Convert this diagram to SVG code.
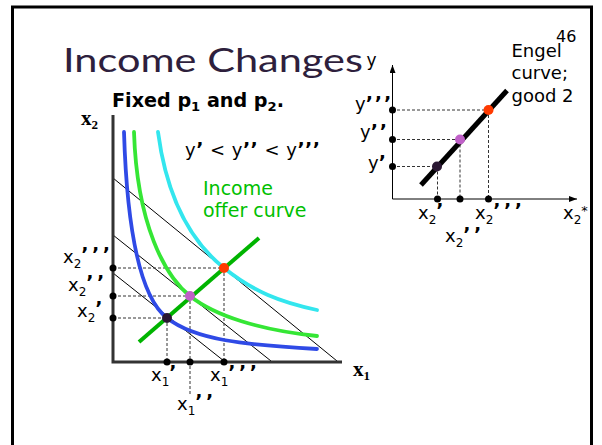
<svg xmlns="http://www.w3.org/2000/svg" width="602" height="445" viewBox="0 0 602 445">
<style>
.lbl{font-family:"DejaVu Sans","Liberation Sans",sans-serif;font-size:18px;fill:#000}
.sub{font-size:12px}
.pr{font-weight:bold;font-size:19px}
.ax{stroke:#333;stroke-width:3;fill:none}
.bl{stroke:#000;stroke-width:1;fill:none}
.dash{stroke:#333;stroke-width:1;stroke-dasharray:3,2;fill:none}
.ic{fill:none;stroke-width:3.8;stroke-linecap:round}
.dot{fill:#000}
.bold{font-family:"Liberation Serif","Times New Roman",serif;font-weight:bold;font-size:21px;fill:#000}
</style>
<defs>
<marker id="arr" viewBox="0 0 8 6" refX="8" refY="3" markerWidth="8" markerHeight="6" markerUnits="userSpaceOnUse" orient="auto">
<path d="M0,0 L8,3 L0,6 Z" fill="#000"/>
</marker>
</defs>
<rect x="0" y="0" width="602" height="445" fill="#fff"/>
<rect id="frame" x="12.5" y="7" width="579" height="470" fill="none" stroke="#000" stroke-width="3"/>

<g id="title">
<text x="63" y="72" font-family="Lato,'Open Sans',sans-serif" font-weight="400" font-size="32" fill="#2e1f3d" textLength="300" lengthAdjust="spacingAndGlyphs">Income Changes</text>
</g>
<g id="pagenum"><text class="lbl" x="556" y="41.5" style="font-size:16px">46</text></g>

<g id="subtitle">
<text class="lbl" x="112" y="106.5" font-weight="bold" style="font-size:19px" textLength="172" lengthAdjust="spacingAndGlyphs">Fixed p<tspan class="sub" dy="4" style="font-size:13px">1</tspan><tspan dy="-4"> and p</tspan><tspan dy="4" style="font-size:13px">2</tspan><tspan dy="-4">.</tspan></text>
</g>

<!-- Left graph -->
<g id="budget-lines">
<line class="bl" x1="113" y1="273" x2="224" y2="361"/>
<line class="bl" x1="113" y1="235" x2="271" y2="361"/>
<line class="bl" x1="113" y1="178" x2="337" y2="361"/>
</g>
<g id="left-dashes">
<line class="dash" x1="113" y1="268" x2="224" y2="268"/>
<line class="dash" x1="113" y1="296" x2="190" y2="296"/>
<line class="dash" x1="113" y1="318" x2="167" y2="318"/>
<line class="dash" x1="167" y1="318" x2="167" y2="362"/>
<line class="dash" x1="190" y1="296" x2="190" y2="394"/>
<line class="dash" x1="224" y1="268" x2="224" y2="362"/>
</g>
<g id="indiff-blue"><path class="ic" stroke="#2f4ae6" d="M124,132 C127,230 140,297 167,318 C195,340 245,345 317,349"/></g>
<g id="indiff-green"><path class="ic" stroke="#35e635" d="M134,132 C137,225 165,276 190,296 C215,316 260,330 317,336"/></g>
<g id="indiff-cyan"><path class="ic" stroke="#33e6ee" d="M158,132 C165,185 184,236 224,268 C254,292 280,302 317,310"/></g>
<g id="offer-curve"><line x1="139" y1="342" x2="259" y2="238" stroke="#00b400" stroke-width="4"/></g>
<g id="left-points">
<circle cx="167" cy="318" r="5" fill="#2b1833"/>
<circle cx="190" cy="296" r="5" fill="#c060c8"/>
<circle cx="224" cy="268" r="5" fill="#ff3a00"/>
</g>
<g id="left-axes">
<polyline class="ax" points="113,115 113,362 342,362"/>
<circle class="dot" cx="113" cy="268" r="3.5"/>
<circle class="dot" cx="113" cy="296" r="3.5"/>
<circle class="dot" cx="113" cy="318" r="3.5"/>
<circle class="dot" cx="167" cy="362" r="3.5"/>
<circle class="dot" cx="190" cy="362" r="3.5"/>
<circle class="dot" cx="224" cy="362" r="3.5"/>
</g>
<g id="left-labels">
<text class="bold" x="81" y="125">x<tspan dy="4" style="font-size:13px">2</tspan></text>
<text class="bold" x="353" y="376">x<tspan dy="4" style="font-size:13px">1</tspan></text>
<text class="lbl" x="185" y="156" textLength="135" lengthAdjust="spacing">y<tspan class="pr">’</tspan> &lt; y<tspan class="pr">’’</tspan> &lt; y<tspan class="pr">’’’</tspan></text>
<text class="lbl" x="203" y="195" style="fill:#00c000;font-size:19px">Income</text>
<text class="lbl" x="203" y="216.5" style="fill:#00c000;font-size:19px">offer curve</text>
<text class="lbl" x="63" y="263">x<tspan class="sub" dy="5">2</tspan><tspan class="pr" dy="-7" letter-spacing="3.5">’’’</tspan></text>
<text class="lbl" x="68" y="291">x<tspan class="sub" dy="5">2</tspan><tspan class="pr" dy="-7" letter-spacing="3.5">’’</tspan></text>
<text class="lbl" x="77" y="317">x<tspan class="sub" dy="5">2</tspan><tspan class="pr" dy="-7">’</tspan></text>
<text class="lbl" x="151" y="381">x<tspan class="sub" dy="5">1</tspan><tspan class="pr" dy="-7">’</tspan></text>
<text class="lbl" x="210" y="381">x<tspan class="sub" dy="5">1</tspan><tspan class="pr" dy="-7" letter-spacing="3.5">’’’</tspan></text>
<text class="lbl" x="177" y="410">x<tspan class="sub" dy="5">1</tspan><tspan class="pr" dy="-7" letter-spacing="3.5">’’</tspan></text>
</g>

<!-- Engel graph -->
<g id="engel-axes">
<line x1="392.5" y1="199" x2="392.5" y2="65" stroke="#000" stroke-width="1" marker-end="url(#arr)"/>
<line x1="392.5" y1="199" x2="577" y2="199" stroke="#000" stroke-width="1" marker-end="url(#arr)"/>
</g>
<g id="engel-dashes">
<line class="dash" x1="392" y1="110" x2="488" y2="110"/>
<line class="dash" x1="392" y1="139.5" x2="460" y2="139.5"/>
<line class="dash" x1="392" y1="166.5" x2="437" y2="166.5"/>
<line class="dash" x1="437.5" y1="166.5" x2="437.5" y2="199"/>
<line class="dash" x1="460" y1="139.5" x2="460" y2="199"/>
<line class="dash" x1="488.5" y1="110" x2="488.5" y2="199"/>
</g>
<g id="engel-curve"><line x1="421" y1="185" x2="507" y2="90.5" stroke="#000" stroke-width="5"/></g>
<g id="engel-points">
<circle cx="437" cy="166.5" r="5" fill="#2b1833"/>
<circle cx="460" cy="139.5" r="5" fill="#c060c8"/>
<circle cx="488.5" cy="110" r="5" fill="#ff3a00"/>
<circle class="dot" cx="392.5" cy="110" r="3.5"/>
<circle class="dot" cx="392.5" cy="139.5" r="3.5"/>
<circle class="dot" cx="392.5" cy="166.5" r="3.5"/>
<circle class="dot" cx="437.5" cy="199" r="3.5"/>
<circle class="dot" cx="460" cy="199" r="3.5"/>
<circle class="dot" cx="488.5" cy="199" r="3.5"/>
</g>
<g id="engel-labels">
<text class="lbl" x="366.5" y="66" style="font-size:17px">y</text>
<text class="lbl" x="355" y="109.5">y<tspan class="pr" letter-spacing="2">’’’</tspan></text>
<text class="lbl" x="360" y="138">y<tspan class="pr" letter-spacing="2">’’</tspan></text>
<text class="lbl" x="368" y="169">y<tspan class="pr">’</tspan></text>
<text class="lbl" x="418" y="219">x<tspan class="sub" dy="5">2</tspan><tspan class="pr" dy="-7">’</tspan></text>
<text class="lbl" x="475" y="219">x<tspan class="sub" dy="5">2</tspan><tspan class="pr" dy="-7" letter-spacing="3.5">’’’</tspan></text>
<text class="lbl" x="445" y="242">x<tspan class="sub" dy="5">2</tspan><tspan class="pr" dy="-6" letter-spacing="3.5">’’</tspan></text>
<text class="lbl" x="563" y="219">x<tspan class="sub" dy="5">2</tspan><tspan dy="-9" style="font-size:13px">*</tspan></text>
<text class="lbl" x="511.5" y="56.5">Engel</text>
<text class="lbl" x="511.5" y="79">curve;</text>
<text class="lbl" x="511.5" y="101.5">good 2</text>
</g>
</svg>
